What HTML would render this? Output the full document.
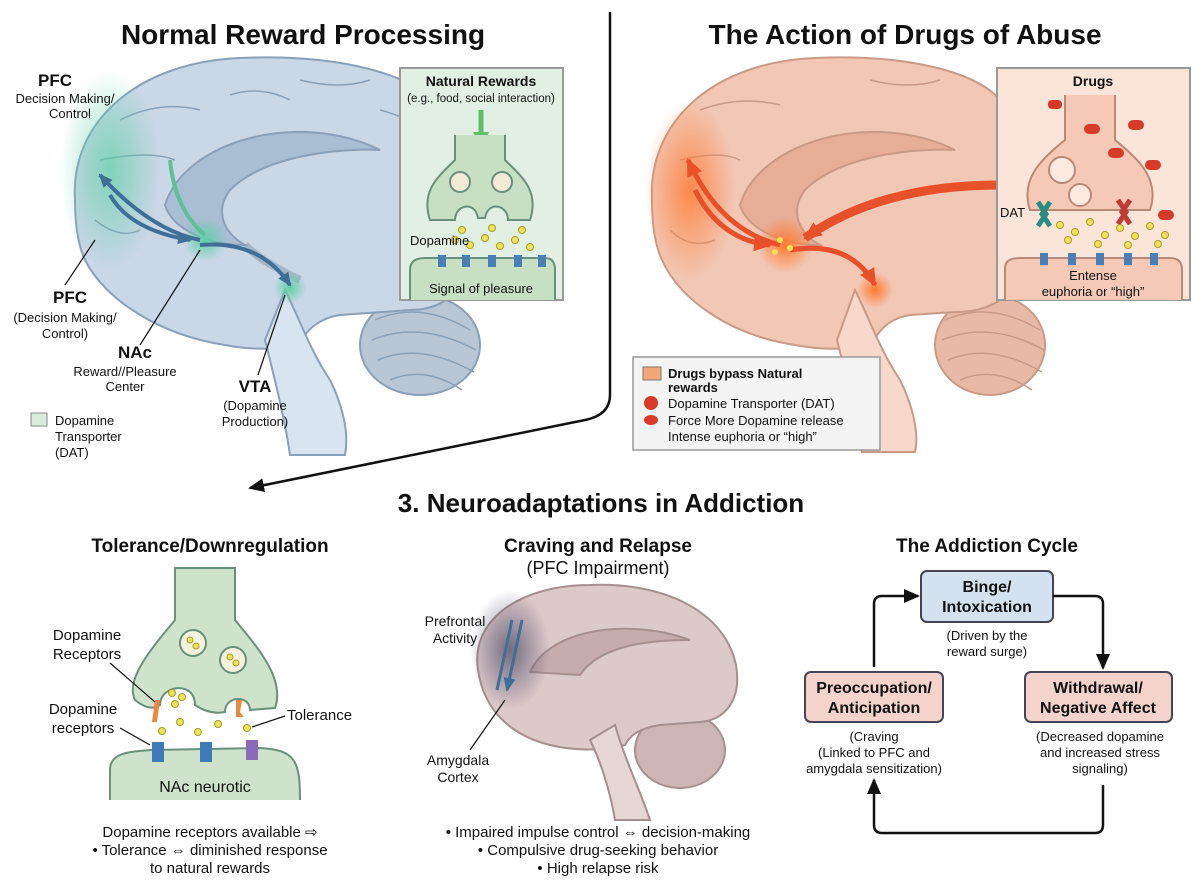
<!DOCTYPE html>
<html><head><meta charset="utf-8"><style>
html,body{margin:0;padding:0;background:#fff}
svg{display:block}
text{font-family:"Liberation Sans",sans-serif;fill:#111}
.b{font-weight:bold}
</style></head><body>
<svg width="1200" height="896" viewBox="0 0 1200 896" xmlns="http://www.w3.org/2000/svg">
<defs>
<marker id="ah" markerUnits="userSpaceOnUse" markerWidth="16" markerHeight="14" refX="14" refY="7" orient="auto"><path d="M0,0 L16,7 L0,14 z" fill="#111"/></marker>
<marker id="ab" markerUnits="userSpaceOnUse" markerWidth="14" markerHeight="12" refX="12" refY="6" orient="auto"><path d="M0,0 L14,6 L0,12 z" fill="#3f6f96"/></marker>
<marker id="ao" markerUnits="userSpaceOnUse" markerWidth="18" markerHeight="16" refX="16" refY="8" orient="auto"><path d="M0,0 L18,8 L0,16 z" fill="#e8502a"/></marker>
<marker id="ag" markerUnits="userSpaceOnUse" markerWidth="16" markerHeight="16" refX="8" refY="8" orient="auto"><path d="M0,0 L16,8 L0,16 z" fill="#5fbf6a"/></marker>
<radialGradient id="gg"><stop offset="0" stop-color="#5fd0a8"/><stop offset="1" stop-color="#5fd0a8" stop-opacity="0"/></radialGradient>
<radialGradient id="og"><stop offset="0" stop-color="#ff7a30"/><stop offset="1" stop-color="#ff7a30" stop-opacity="0"/></radialGradient>
<radialGradient id="pg"><stop offset="0" stop-color="#5a5470" stop-opacity=".8"/><stop offset="1" stop-color="#5a5470" stop-opacity="0"/></radialGradient>
</defs>

<text x="303" y="44" font-size="28" class="b" text-anchor="middle">Normal Reward Processing</text>
<text x="905" y="44" font-size="28" class="b" text-anchor="middle">The Action of Drugs of Abuse</text>

<path d="M610,12 L610,395 Q610,415 585,420 L250,488" fill="none" stroke="#111" stroke-width="2.5" marker-end="url(#ah)"/>

<!-- LEFT BRAIN -->
<g>
<ellipse cx="420" cy="345" rx="60" ry="50" fill="#b8c6d6" stroke="#8aa0b8" stroke-width="2"/>
<path d="M75,200 C70,120 140,62 240,58 C330,54 420,70 455,120 C480,160 485,220 470,265 C460,295 440,310 410,310 L340,315 C320,318 305,330 300,345 C280,350 250,350 225,345 C160,335 105,300 85,260 C78,245 75,225 75,200 Z" fill="#c9d7e6" stroke="#8aa0b8" stroke-width="2"/>
<path d="M375,320 Q420,300 470,330 M372,340 Q420,320 476,350 M378,360 Q420,342 474,372 M390,380 Q425,365 462,390" stroke="#8aa0b8" fill="none" stroke-width="1.5"/>
<path d="M285,290 C300,320 310,350 330,380 C340,400 350,430 345,455 L290,455 C285,420 275,380 265,340 Z" fill="#d8e4ef" stroke="#8aa0b8" stroke-width="2"/>
<path d="M165,205 C185,140 300,110 380,150 C340,148 265,155 230,190 C215,210 222,232 245,245 C205,245 172,228 165,205 Z" fill="#a9bdd3" stroke="#8aa0b8" stroke-width="2"/>
<path d="M245,245 C260,260 280,270 300,280" stroke="#8aa0b8" stroke-width="8" fill="none" opacity=".6"/>
<path d="M120,120 Q160,100 200,110 M100,160 Q150,150 175,160 M300,80 Q340,90 370,80 M380,110 Q420,120 440,150 M95,220 Q120,240 140,230 M440,200 Q450,230 430,260 M230,95 Q260,85 290,100" stroke="#8aa0b8" fill="none" stroke-width="1.5"/>
<ellipse cx="110" cy="170" rx="50" ry="100" fill="url(#gg)" opacity=".7"/>
<circle cx="205" cy="240" r="22" fill="url(#gg)"/>
<circle cx="290" cy="288" r="16" fill="url(#gg)"/>
<path d="M200,240 Q150,230 100,175" stroke="#3f6f96" stroke-width="4" fill="none" marker-end="url(#ab)"/>
<path d="M110,195 Q130,230 190,240" stroke="#3f6f96" stroke-width="4" fill="none" marker-end="url(#ab)"/>
<path d="M200,245 Q260,240 290,285" stroke="#3f6f96" stroke-width="4" fill="none" marker-end="url(#ab)"/>
<path d="M170,160 Q175,210 205,235" stroke="#5fbf9a" stroke-width="4" fill="none"/>
</g>
<text x="55" y="86" font-size="17" class="b" text-anchor="middle">PFC</text>
<text x="65" y="103" font-size="13" text-anchor="middle">Decision Making/</text>
<text x="70" y="118" font-size="13" text-anchor="middle">Control</text>
<text x="70" y="303" font-size="17" class="b" text-anchor="middle">PFC</text>
<text x="65" y="322" font-size="13" text-anchor="middle">(Decision Making/</text>
<text x="65" y="338" font-size="13" text-anchor="middle">Control)</text>
<line x1="65" y1="285" x2="95" y2="240" stroke="#111" stroke-width="1.2"/>
<text x="118" y="358" font-size="17" class="b">NAc</text>
<text x="125" y="376" font-size="13" text-anchor="middle">Reward//Pleasure</text>
<text x="125" y="391" font-size="13" text-anchor="middle">Center</text>
<line x1="140" y1="345" x2="200" y2="250" stroke="#111" stroke-width="1.2"/>
<text x="255" y="392" font-size="17" class="b" text-anchor="middle">VTA</text>
<text x="255" y="410" font-size="13" text-anchor="middle">(Dopamine</text>
<text x="255" y="426" font-size="13" text-anchor="middle">Production)</text>
<line x1="258" y1="375" x2="285" y2="295" stroke="#111" stroke-width="1.2"/>
<rect x="31" y="413" width="16" height="13" fill="#d6ecdc" stroke="#888"/>
<text x="55" y="425" font-size="13">Dopamine</text>
<text x="55" y="441" font-size="13">Transporter</text>
<text x="55" y="457" font-size="13">(DAT)</text>

<!-- Natural rewards inset -->
<rect x="400" y="68" width="163" height="232" fill="#e2f0e4" stroke="#999" stroke-width="2"/>
<text x="481" y="86" font-size="14" class="b" text-anchor="middle">Natural Rewards</text>
<text x="481" y="102" font-size="11.5" text-anchor="middle">(e.g., food, social interaction)</text>
<line x1="481" y1="110" x2="481" y2="140" stroke="#5fbf6a" stroke-width="5" marker-end="url(#ag)"/>
<path d="M455,135 L455,160 C440,175 420,190 430,220 L455,220 C455,205 475,200 478,218 L485,218 C488,200 508,205 508,220 L530,220 C540,190 520,175 505,160 L505,135" fill="#c7e0c4" stroke="#6a8f7a" stroke-width="2"/>
<circle cx="460" cy="182" r="10" fill="#f3ead8" stroke="#6a8f7a" stroke-width="2"/>
<circle cx="502" cy="182" r="10" fill="#f3ead8" stroke="#6a8f7a" stroke-width="2"/>
<g fill="#efe35a" stroke="#a89b2a" stroke-width="1">
<circle cx="455" cy="240" r="3.5"/><circle cx="470" cy="245" r="3.5"/><circle cx="485" cy="238" r="3.5"/><circle cx="500" cy="246" r="3.5"/><circle cx="515" cy="240" r="3.5"/><circle cx="530" cy="247" r="3.5"/><circle cx="462" cy="230" r="3.5"/><circle cx="492" cy="228" r="3.5"/><circle cx="522" cy="230" r="3.5"/></g>
<path d="M410,300 L410,270 Q410,258 425,258 L545,258 Q555,258 555,270 L555,300" fill="#c7e0c4" stroke="#6a8f7a" stroke-width="2"/>
<g fill="#4a7fb5"><rect x="438" y="255" width="8" height="12"/><rect x="462" y="255" width="8" height="12"/><rect x="488" y="255" width="8" height="12"/><rect x="514" y="255" width="8" height="12"/><rect x="538" y="255" width="8" height="12"/></g>
<text x="410" y="245" font-size="13">Dopamine</text>
<text x="481" y="293" font-size="13" text-anchor="middle">Signal of pleasure</text>

<!-- RIGHT BRAIN -->
<g>
<ellipse cx="990" cy="345" rx="55" ry="50" fill="#e8b9a5" stroke="#c99a86" stroke-width="2"/>
<path d="M652,200 C648,120 715,62 815,58 C900,54 975,70 1000,100 L1000,300 C985,310 970,312 955,312 L910,315 C890,318 878,330 872,345 C850,350 820,350 795,345 C730,335 680,300 662,260 C655,245 652,225 652,200 Z" fill="#f2c7b4" stroke="#c99a86" stroke-width="2"/>
<path d="M945,320 Q990,300 1040,330 M942,340 Q990,320 1044,350 M948,360 Q990,342 1042,372 M960,380 Q995,365 1032,390" stroke="#c99a86" fill="none" stroke-width="1.5"/>
<path d="M855,290 C870,320 880,350 900,380 C910,400 920,430 915,452 L862,452 C857,420 847,380 837,340 Z" fill="#f7d8ca" stroke="#c99a86" stroke-width="2"/>
<path d="M740,205 C760,140 875,110 955,150 C915,148 840,155 805,190 C790,210 797,232 820,245 C780,245 747,228 740,205 Z" fill="#e6ad97" stroke="#c99a86" stroke-width="2"/>
<path d="M700,110 Q740,95 780,105 M870,80 Q910,90 940,80 M680,160 Q720,150 740,160 M670,230 Q690,250 715,240" stroke="#c99a86" fill="none" stroke-width="1.5"/>
<ellipse cx="690" cy="190" rx="45" ry="90" fill="url(#og)" opacity=".8"/>
<circle cx="785" cy="245" r="28" fill="url(#og)"/>
<circle cx="875" cy="290" r="18" fill="url(#og)"/>
<path d="M780,245 Q720,230 688,160" stroke="#e8502a" stroke-width="5" fill="none" marker-end="url(#ao)"/>
<path d="M695,190 Q720,240 770,245" stroke="#e8502a" stroke-width="5" fill="none" marker-end="url(#ao)"/>
<path d="M790,250 Q850,240 875,285" stroke="#e8502a" stroke-width="5" fill="none" marker-end="url(#ao)"/>
<path d="M1000,185 Q880,185 805,238" stroke="#e8502a" stroke-width="9" fill="none" marker-end="url(#ao)"/>
<g fill="#efe35a"><circle cx="780" cy="240" r="3"/><circle cx="790" cy="248" r="3"/><circle cx="775" cy="252" r="3"/></g>
</g>
<!-- Drugs inset -->
<rect x="997" y="68" width="193" height="232" fill="#fbe4d8" stroke="#999" stroke-width="2"/>
<text x="1093" y="86" font-size="14" class="b" text-anchor="middle">Drugs</text>
<path d="M1065,95 L1065,140 C1040,160 1020,180 1030,210 L1150,210 C1160,180 1140,160 1115,140 L1115,95" fill="#f5c9b6" stroke="#b88a76" stroke-width="2"/>
<circle cx="1062" cy="170" r="13" fill="#fde9e0" stroke="#b88a76" stroke-width="2"/>
<circle cx="1080" cy="195" r="11" fill="#fde9e0" stroke="#b88a76" stroke-width="2"/>
<g fill="#d83a2a"><rect x="1084" y="124" width="16" height="10" rx="5"/><rect x="1108" y="148" width="16" height="10" rx="5"/><rect x="1128" y="120" width="16" height="10" rx="5"/><rect x="1145" y="160" width="16" height="10" rx="5"/><rect x="1048" y="100" width="14" height="9" rx="4"/><rect x="1158" y="210" width="16" height="10" rx="5"/></g>
<path d="M1038,202 l8,12 l-8,12 M1050,202 l-8,12 l8,12" stroke="#2a8c80" stroke-width="5" fill="none"/>
<path d="M1118,200 l8,12 l-8,12 M1130,200 l-8,12 l8,12" stroke="#c23a35" stroke-width="5" fill="none"/>
<text x="1000" y="217" font-size="13">DAT</text>
<g fill="#efe35a" stroke="#a89b2a" stroke-width="1">
<circle cx="1060" cy="225" r="3.5"/><circle cx="1075" cy="232" r="3.5"/><circle cx="1090" cy="222" r="3.5"/><circle cx="1105" cy="235" r="3.5"/><circle cx="1120" cy="228" r="3.5"/><circle cx="1135" cy="236" r="3.5"/><circle cx="1150" cy="226" r="3.5"/><circle cx="1165" cy="235" r="3.5"/><circle cx="1068" cy="240" r="3.5"/><circle cx="1098" cy="244" r="3.5"/><circle cx="1128" cy="245" r="3.5"/><circle cx="1158" cy="244" r="3.5"/></g>
<path d="M1005,300 L1005,268 Q1005,258 1020,258 L1170,258 Q1182,258 1182,270 L1182,300" fill="#f5c9b6" stroke="#b88a76" stroke-width="2"/>
<g fill="#4a7fb5"><rect x="1040" y="253" width="8" height="12"/><rect x="1068" y="253" width="8" height="12"/><rect x="1096" y="253" width="8" height="12"/><rect x="1124" y="253" width="8" height="12"/><rect x="1150" y="253" width="8" height="12"/></g>
<text x="1093" y="280" font-size="13" text-anchor="middle">Entense</text>
<text x="1093" y="296" font-size="13" text-anchor="middle">euphoria or “high”</text>

<!-- Legend -->
<rect x="633" y="357" width="247" height="93" fill="#f4f4f4" stroke="#999" stroke-width="1.5"/>
<rect x="643" y="367" width="18" height="13" fill="#f3a877" stroke="#777"/>
<text x="668" y="378" font-size="13" class="b">Drugs bypass Natural</text>
<text x="668" y="392" font-size="13" class="b">rewards</text>
<ellipse cx="651" cy="403" rx="7" ry="7" fill="#d83a2a"/>
<text x="668" y="408" font-size="13">Dopamine Transporter (DAT)</text>
<ellipse cx="651" cy="420" rx="7" ry="5" fill="#d83a2a"/>
<text x="668" y="425" font-size="13">Force More Dopamine release</text>
<text x="668" y="441" font-size="13">Intense euphoria or “high”</text>

<!-- Section 3 -->
<text x="601" y="512" font-size="26" class="b" text-anchor="middle">3. Neuroadaptations in Addiction</text>
<text x="210" y="552" font-size="19" class="b" text-anchor="middle">Tolerance/Downregulation</text>
<text x="598" y="552" font-size="19" class="b" text-anchor="middle">Craving and Relapse</text>
<text x="598" y="574" font-size="18" text-anchor="middle">(PFC Impairment)</text>
<text x="987" y="552" font-size="19" class="b" text-anchor="middle">The Addiction Cycle</text>

<!-- Tolerance synapse -->
<path d="M175,568 L175,620 C150,650 125,680 135,700 Q150,712 160,705 C160,685 195,680 195,705 Q210,715 225,712 C225,695 250,695 250,710 L275,708 C285,680 260,650 235,620 L235,568 Z" fill="#cfe3cc" stroke="#6a8f7a" stroke-width="2"/>
<circle cx="193" cy="643" r="13" fill="#f3f3e0" stroke="#6a8f7a" stroke-width="2"/>
<circle cx="233" cy="660" r="13" fill="#f3f3e0" stroke="#6a8f7a" stroke-width="2"/>
<g fill="#efe35a" stroke="#a89b2a" stroke-width="1">
<circle cx="190" cy="640" r="3"/><circle cx="196" cy="646" r="3"/><circle cx="230" cy="657" r="3"/><circle cx="236" cy="663" r="3"/>
<circle cx="172" cy="693" r="3.5"/><circle cx="182" cy="697" r="3.5"/><circle cx="175" cy="704" r="3.5"/><circle cx="180" cy="722" r="3.5"/><circle cx="162" cy="731" r="3.5"/><circle cx="198" cy="732" r="3.5"/><circle cx="218" cy="724" r="3.5"/><circle cx="247" cy="728" r="3.5"/></g>
<path d="M155,700 l5,0 l-3,22 l-5,0 z" fill="#e88a3a"/>
<path d="M236,700 l6,0 l-2,12 l4,5 l-8,0 z" fill="#e88a3a"/>
<path d="M110,800 L110,770 C110,752 130,752 150,750 L260,748 C295,750 300,760 300,800" fill="#cfe3cc" stroke="#6a8f7a" stroke-width="2"/>
<g><rect x="152" y="742" width="12" height="20" fill="#3f7ab8"/><rect x="200" y="742" width="12" height="20" fill="#3f7ab8"/><rect x="246" y="740" width="12" height="20" fill="#8a6ab8"/></g>
<text x="87" y="640" font-size="15" text-anchor="middle">Dopamine</text>
<text x="87" y="659" font-size="15" text-anchor="middle">Receptors</text>
<line x1="110" y1="663" x2="155" y2="702" stroke="#111" stroke-width="1.2"/>
<text x="83" y="714" font-size="15" text-anchor="middle">Dopamine</text>
<text x="83" y="733" font-size="15" text-anchor="middle">receptors</text>
<line x1="120" y1="728" x2="150" y2="745" stroke="#111" stroke-width="1.2"/>
<text x="287" y="720" font-size="15">Tolerance</text>
<line x1="285" y1="716" x2="252" y2="727" stroke="#111" stroke-width="1.2"/>
<text x="205" y="792" font-size="16" text-anchor="middle">NAc neurotic</text>
<text x="210" y="837" font-size="15" text-anchor="middle">Dopamine receptors available ⇨</text>
<text x="210" y="855" font-size="15" text-anchor="middle">• Tolerance ⇔ diminished response</text>
<text x="210" y="873" font-size="15" text-anchor="middle">to natural rewards</text>

<!-- Craving brain -->
<ellipse cx="680" cy="750" rx="45" ry="38" fill="#cdb5b5" stroke="#a58f8f" stroke-width="2"/>
<path d="M478,670 C470,620 520,585 590,585 C665,582 725,612 736,665 C742,700 725,720 700,722 L660,725 C640,728 630,735 625,745 C600,752 570,750 550,745 C510,735 484,710 478,670 Z" fill="#dcc9c9" stroke="#a58f8f" stroke-width="2"/>
<path d="M615,725 C625,760 640,790 650,820 L615,820 C610,790 600,760 590,740 Z" fill="#e6d6d6" stroke="#a58f8f" stroke-width="2"/>
<path d="M530,672 C550,628 630,618 690,640 C650,640 600,645 580,675 Z" fill="#c6acac" stroke="#a58f8f" stroke-width="2"/>
<ellipse cx="510" cy="650" rx="40" ry="60" fill="url(#pg)"/>
<path d="M512,620 L497,690 M522,620 L507,690" stroke="#3f6f96" stroke-width="3" marker-end="url(#ab)"/>
<text x="455" y="626" font-size="14" text-anchor="middle">Prefrontal</text>
<text x="455" y="643" font-size="14" text-anchor="middle">Activity</text>
<text x="458" y="765" font-size="14" text-anchor="middle">Amygdala</text>
<text x="458" y="782" font-size="14" text-anchor="middle">Cortex</text>
<line x1="470" y1="750" x2="505" y2="700" stroke="#111" stroke-width="1.2"/>
<text x="598" y="837" font-size="15" text-anchor="middle">• Impaired impulse control ⇔ decision-making</text>
<text x="598" y="855" font-size="15" text-anchor="middle">• Compulsive drug-seeking behavior</text>
<text x="598" y="873" font-size="15" text-anchor="middle">• High relapse risk</text>

<!-- Cycle -->
<rect x="921" y="571" width="132" height="51" rx="6" fill="#d4e2f0" stroke="#445" stroke-width="2"/>
<text x="987" y="592" font-size="16" class="b" text-anchor="middle">Binge/</text>
<text x="987" y="612" font-size="16" class="b" text-anchor="middle">Intoxication</text>
<text x="987" y="640" font-size="13" text-anchor="middle">(Driven by the</text>
<text x="987" y="656" font-size="13" text-anchor="middle">reward surge)</text>
<rect x="1025" y="672" width="147" height="50" rx="6" fill="#f3d3cc" stroke="#445" stroke-width="2"/>
<text x="1098" y="693" font-size="16" class="b" text-anchor="middle">Withdrawal/</text>
<text x="1098" y="713" font-size="16" class="b" text-anchor="middle">Negative Affect</text>
<text x="1100" y="741" font-size="13" text-anchor="middle">(Decreased dopamine</text>
<text x="1100" y="757" font-size="13" text-anchor="middle">and increased stress</text>
<text x="1100" y="773" font-size="13" text-anchor="middle">signaling)</text>
<rect x="805" y="672" width="138" height="50" rx="6" fill="#f3d3cc" stroke="#445" stroke-width="2"/>
<text x="874" y="693" font-size="16" class="b" text-anchor="middle">Preoccupation/</text>
<text x="874" y="713" font-size="16" class="b" text-anchor="middle">Anticipation</text>
<text x="874" y="741" font-size="13" text-anchor="middle">(Craving</text>
<text x="874" y="757" font-size="13" text-anchor="middle">(Linked to PFC and</text>
<text x="874" y="773" font-size="13" text-anchor="middle">amygdala sensitization)</text>
<path d="M1053,596 L1095,596 Q1103,596 1103,604 L1103,668" fill="none" stroke="#111" stroke-width="2.5" marker-end="url(#ah)"/>
<path d="M1103,785 L1103,825 Q1103,833 1095,833 L882,833 Q874,833 874,825 L874,780" fill="none" stroke="#111" stroke-width="2.5" marker-end="url(#ah)"/>
<path d="M874,667 L874,604 Q874,596 882,596 L918,596" fill="none" stroke="#111" stroke-width="2.5" marker-end="url(#ah)"/>
</svg>
</body></html>
